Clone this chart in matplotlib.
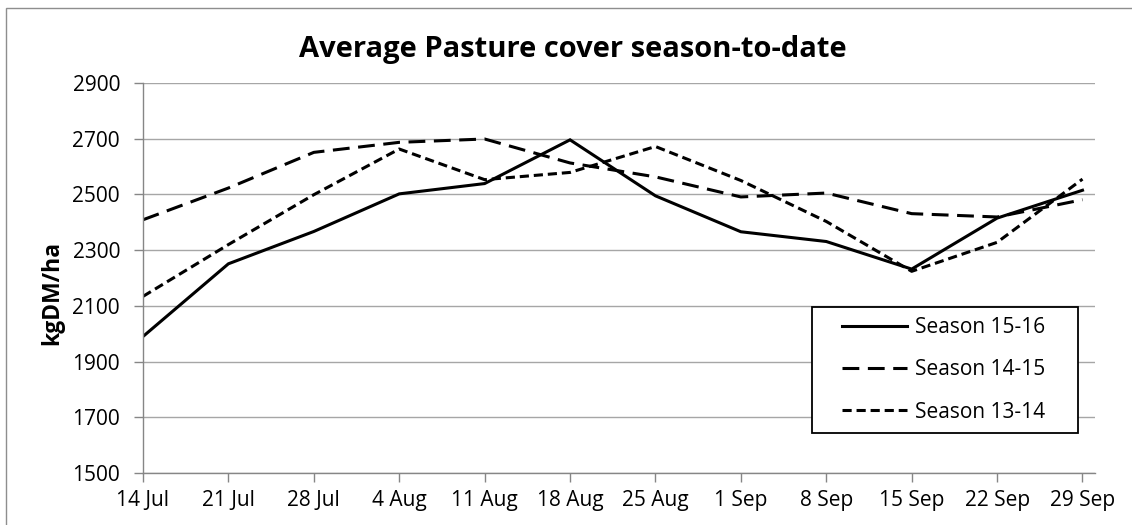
import matplotlib
matplotlib.use('Agg')
import matplotlib.pyplot as plt
from matplotlib.lines import Line2D
from matplotlib.legend_handler import HandlerLine2D
from matplotlib.patches import Rectangle

plt.rcParams['font.family'] = ['Open Sans', 'DejaVu Sans']

# weekly pasture cover readings, kgDM/ha
weeks = ['14 Jul', '21 Jul', '28 Jul', '4 Aug', '11 Aug', '18 Aug',
         '25 Aug', '1 Sep', '8 Sep', '15 Sep', '22 Sep', '29 Sep']
season_1516 = [1990, 2251, 2367, 2502, 2539, 2696, 2495, 2366, 2331, 2232, 2415, 2515]
season_1415 = [2409, 2523, 2651, 2687, 2699, 2613, 2563, 2491, 2505, 2431, 2419, 2481]
season_1314 = [2134, 2320, 2499, 2663, 2553, 2579, 2672, 2550, 2403, 2224, 2328, 2555]
y_ticks = [1500, 1700, 1900, 2100, 2300, 2500, 2700, 2900]

fig = plt.figure(figsize=(11.32, 5.25), dpi=100)
ax = fig.add_axes([143/1132, 52/525, (1094.7-143)/1132, 390/525])

x = list(range(len(weeks)))
lw = 2.2
ax.plot(x, season_1516, color='black', lw=lw, label='Season 15-16',
        solid_joinstyle='miter')
ax.plot(x, season_1415, color='black', lw=lw, label='Season 14-15',
        linestyle=(0, (5.5, 2.8)))
ax.plot(x, season_1314, color='black', lw=lw, label='Season 13-14',
        linestyle=(0, (3.0, 1.6)))

ax.set_xlim(0, len(weeks) - 1 + 1/7)
ax.set_ylim(1500, 2900)
ax.set_xticks(x)
ax.set_xticklabels(weeks)
ax.set_yticks(y_ticks)

fs = 15
ax.grid(axis='y', color='#a6a6a6', lw=1.0)
ax.set_axisbelow(True)
for s in ['top', 'right']:
    ax.spines[s].set_visible(False)
for s in ['left', 'bottom']:
    ax.spines[s].set_color('#868686')
    ax.spines[s].set_linewidth(1.0)
ax.tick_params(axis='both', colors='#868686', labelcolor='black',
               labelsize=fs, length=6.5, width=1.0)
ax.tick_params(axis='x', pad=6)
ax.tick_params(axis='y', pad=10)

handler = HandlerLine2D(xpad=0.96)
leg = ax.legend(loc='upper left', bbox_to_anchor=(669/951.7, 0.1154, 266/951.7, 0.4256 - 0.1154),
                mode='expand', borderaxespad=0, fontsize=fs, frameon=True,
                fancybox=False, edgecolor='black', handlelength=4.08,
                handletextpad=0.38, labelspacing=1.02, borderpad=0.49,
                handler_map={Line2D: handler})
leg.get_frame().set_linewidth(1.3)
leg.get_frame().set_alpha(None)

fig.text(0.506, 0.905, 'Average Pasture cover season-to-date',
         ha='center', va='center', fontsize=21, fontweight='bold')
fig.text(0.046, 0.442, 'kgDM/ha', rotation=90, ha='center', va='center',
         fontsize=16.5, fontweight='bold')

# chart area border
fig.patches.append(Rectangle((5.5/1132, -0.1), 1.2, 1 - 8/525 + 0.1,
                             transform=fig.transFigure, fill=False,
                             edgecolor='#8e8e8e', lw=1.0))

fig.savefig('out.png', dpi=100)
